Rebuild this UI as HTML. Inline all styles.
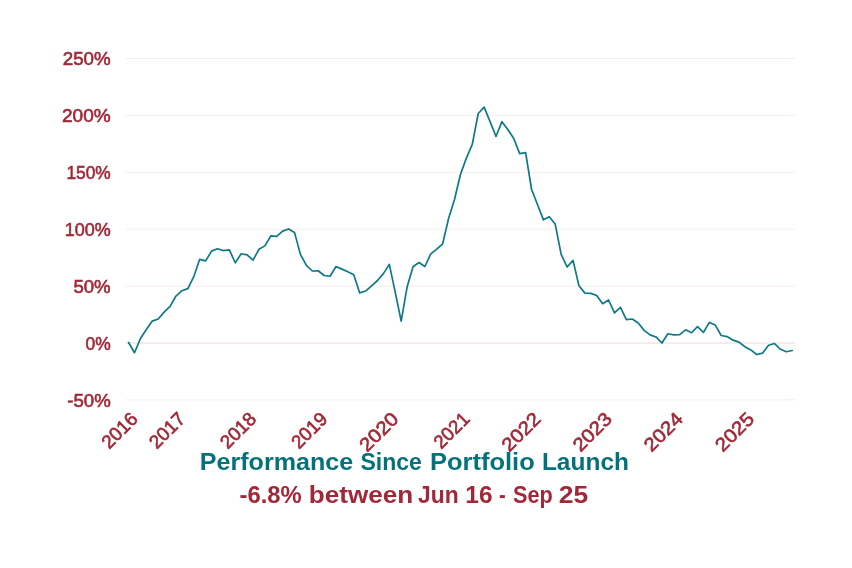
<!DOCTYPE html>
<html><head><meta charset="utf-8"><title>Performance Since Portfolio Launch</title>
<style>
html,body{margin:0;padding:0;background:#fff;}
body{width:852px;height:568px;overflow:hidden;}
svg{display:block;}
.ax{font-family:"Liberation Sans",sans-serif;font-size:18.9px;fill:#a12838;stroke:#a12838;stroke-width:0.6px;}
.t{font-family:"Liberation Sans",sans-serif;font-weight:bold;font-size:24px;}
</style></head><body>
<svg width="852" height="568" viewBox="0 0 852 568">
<rect width="852" height="568" fill="#fff"/>

<line x1="125.6" x2="795.1" y1="58.50" y2="58.50" stroke="#f7ebec" stroke-width="1"/>
<text class="ax" x="110.70" y="64.56" text-anchor="end" textLength="47.90" lengthAdjust="spacingAndGlyphs">250%</text>
<line x1="125.6" x2="795.1" y1="115.40" y2="115.40" stroke="#f7ebec" stroke-width="1"/>
<text class="ax" x="110.70" y="121.56" text-anchor="end" textLength="48.70" lengthAdjust="spacingAndGlyphs">200%</text>
<line x1="125.6" x2="795.1" y1="172.30" y2="172.30" stroke="#f7ebec" stroke-width="1"/>
<text class="ax" x="110.70" y="178.56" text-anchor="end" textLength="44.30" lengthAdjust="spacingAndGlyphs">150%</text>
<line x1="125.6" x2="795.1" y1="229.20" y2="229.20" stroke="#f7ebec" stroke-width="1"/>
<text class="ax" x="110.70" y="235.56" text-anchor="end" textLength="45.90" lengthAdjust="spacingAndGlyphs">100%</text>
<line x1="125.6" x2="795.1" y1="286.10" y2="286.10" stroke="#f7ebec" stroke-width="1"/>
<text class="ax" x="110.70" y="292.56" text-anchor="end" textLength="37.30" lengthAdjust="spacingAndGlyphs">50%</text>
<line x1="125.6" x2="795.1" y1="343.00" y2="343.00" stroke="#eed7d9" stroke-width="1"/>
<text class="ax" x="110.70" y="349.56" text-anchor="end" textLength="25.20" lengthAdjust="spacingAndGlyphs">0%</text>
<line x1="125.6" x2="795.1" y1="399.90" y2="399.90" stroke="#f7ebec" stroke-width="1"/>
<text class="ax" x="110.70" y="406.56" text-anchor="end" textLength="43.40" lengthAdjust="spacingAndGlyphs">-50%</text>
<path d="M128.58,342.46 L134.51,352.76 L140.43,338.50 L146.36,329.53 L152.28,321.09 L158.21,318.97 L164.14,312.11 L170.06,306.30 L175.99,296.01 L181.91,290.73 L187.84,288.62 L193.77,276.74 L199.69,259.33 L205.62,260.91 L211.54,251.14 L217.47,248.77 L223.40,250.62 L229.32,249.82 L235.25,262.76 L241.18,253.78 L247.10,254.84 L253.03,260.12 L258.95,249.30 L264.88,245.87 L270.81,235.84 L276.73,236.36 L282.66,231.09 L288.58,228.97 L294.51,232.40 L300.44,254.37 L306.36,265.45 L312.29,271.00 L318.21,270.73 L324.14,275.48 L330.07,276.28 L335.99,266.51 L341.92,269.15 L347.84,271.79 L353.77,274.69 L359.70,292.90 L365.62,291.06 L371.55,285.78 L377.47,280.50 L383.40,273.64 L389.33,264.40 L395.25,292.38 L401.18,321.14 L407.10,287.10 L413.03,266.77 L418.96,262.55 L424.88,266.51 L430.81,253.84 L436.74,249.09 L442.66,243.81 L448.59,218.53 L454.51,199.53 L460.44,174.46 L466.37,158.09 L472.29,144.37 L478.22,113.49 L484.14,107.16 L490.07,121.67 L496.00,136.45 L501.92,121.67 L507.85,129.59 L513.77,138.56 L519.70,153.61 L525.63,152.55 L531.55,189.24 L537.48,204.55 L543.40,219.85 L549.33,216.69 L555.26,224.34 L561.18,254.34 L567.11,267.01 L573.03,260.41 L578.96,285.75 L584.89,293.14 L590.81,293.40 L596.74,295.51 L602.66,303.70 L608.59,300.00 L614.52,312.93 L620.44,307.39 L626.37,319.53 L632.30,319.00 L638.22,322.96 L644.15,330.35 L650.07,334.84 L656.00,336.95 L661.93,343.02 L667.85,333.78 L673.78,334.84 L679.70,334.57 L685.63,329.82 L691.56,332.73 L697.48,326.66 L703.41,332.46 L709.33,322.43 L715.26,325.07 L721.19,335.53 L727.11,336.59 L733.04,340.18 L738.96,342.08 L744.89,346.72 L750.82,349.89 L756.74,354.53 L762.67,353.06 L768.59,345.24 L774.52,343.55 L780.45,349.26 L786.37,351.79 L792.30,350.52" fill="none" stroke="#0d7a86" stroke-width="1.7" stroke-linejoin="round" stroke-linecap="round"/>
<text class="ax" transform="translate(138.80,420.10) rotate(-45)" text-anchor="end" x="0" y="0" textLength="41.90" lengthAdjust="spacingAndGlyphs">2016</text>
<text class="ax" transform="translate(186.30,420.10) rotate(-45)" text-anchor="end" x="0" y="0" textLength="41.90" lengthAdjust="spacingAndGlyphs">2017</text>
<text class="ax" transform="translate(257.43,420.10) rotate(-45)" text-anchor="end" x="0" y="0" textLength="41.90" lengthAdjust="spacingAndGlyphs">2018</text>
<text class="ax" transform="translate(328.56,420.10) rotate(-45)" text-anchor="end" x="0" y="0" textLength="41.90" lengthAdjust="spacingAndGlyphs">2019</text>
<text class="ax" transform="translate(399.68,420.10) rotate(-45)" text-anchor="end" x="0" y="0" textLength="46.10" lengthAdjust="spacingAndGlyphs">2020</text>
<text class="ax" transform="translate(470.81,420.10) rotate(-45)" text-anchor="end" x="0" y="0" textLength="41.90" lengthAdjust="spacingAndGlyphs">2021</text>
<text class="ax" transform="translate(541.94,420.10) rotate(-45)" text-anchor="end" x="0" y="0" textLength="46.10" lengthAdjust="spacingAndGlyphs">2022</text>
<text class="ax" transform="translate(613.06,420.10) rotate(-45)" text-anchor="end" x="0" y="0" textLength="46.10" lengthAdjust="spacingAndGlyphs">2023</text>
<text class="ax" transform="translate(684.19,420.10) rotate(-45)" text-anchor="end" x="0" y="0" textLength="46.10" lengthAdjust="spacingAndGlyphs">2024</text>
<text class="ax" transform="translate(755.32,420.10) rotate(-45)" text-anchor="end" x="0" y="0" textLength="46.10" lengthAdjust="spacingAndGlyphs">2025</text>
<text class="t" y="469.8" fill="#04727d"><tspan x="199.80" textLength="153.34" lengthAdjust="spacingAndGlyphs">Performance</tspan> <tspan x="360.42" textLength="61.49" lengthAdjust="spacingAndGlyphs">Since</tspan> <tspan x="430.05" textLength="104.71" lengthAdjust="spacingAndGlyphs">Portfolio</tspan> <tspan x="541.92" textLength="87.05" lengthAdjust="spacingAndGlyphs">Launch</tspan></text>
<text class="t" y="502.7" fill="#a12838"><tspan x="239.58" textLength="62.21" lengthAdjust="spacingAndGlyphs">-6.8%</tspan> <tspan x="308.88" textLength="104.43" lengthAdjust="spacingAndGlyphs">between</tspan> <tspan x="418.08" textLength="40.68" lengthAdjust="spacingAndGlyphs">Jun</tspan> <tspan x="465.36" textLength="27.21" lengthAdjust="spacingAndGlyphs">16</tspan> <tspan x="499.07" textLength="6.72" lengthAdjust="spacingAndGlyphs">-</tspan> <tspan x="512.95" textLength="39.73" lengthAdjust="spacingAndGlyphs">Sep</tspan> <tspan x="558.82" textLength="29.40" lengthAdjust="spacingAndGlyphs">25</tspan></text>
</svg></body></html>
